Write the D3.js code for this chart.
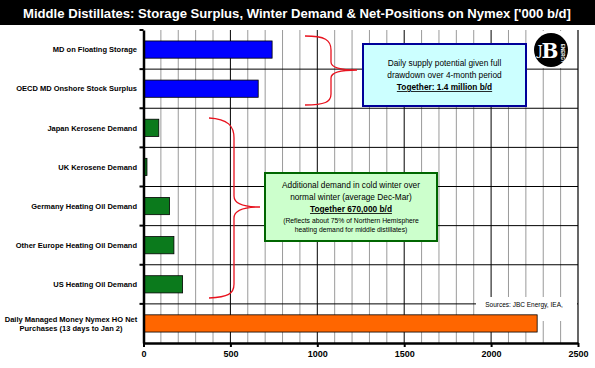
<!DOCTYPE html>
<html lang="en">
<head>
<meta charset="utf-8">
<title>Middle Distillates</title>
<script src="https://d3js.org/d3.v7.min.js"></script>
<style>
  body { margin: 0; background: #fff; }
  text { font-family: Arial, "Liberation Sans", sans-serif; }
  .cat { font-size: 7.5px; font-weight: bold; fill: #000; }
  .tick-lbl { font-size: 9px; font-weight: bold; }
  .note { font-size: 8.3px; fill: #000; }
</style>
</head>
<body>
<svg width="595" height="368"></svg>
<script>
// categories top to bottom
var categories = [
  "MD on Floating Storage",
  "OECD MD Onshore Stock Surplus",
  "Japan Kerosene Demand",
  "UK Kerosene Demand",
  "Germany Heating Oil Demand",
  "Other Europe Heating Oil Demand",
  "US Heating Oil Demand",
  "Daily Managed Money Nymex HO Net Purchases (13 days to Jan 2)"
];
var values = [740, 660, 88, 20, 150, 175, 225, 2265];
var groups = ["storage", "storage", "demand", "demand", "demand", "demand", "demand", "nymex"];
var xTicks = [0, 500, 1000, 1500, 2000, 2500];

var colors = { storage: "#0000ff", demand: "#0b7a1c", nymex: "#ff6600" };

var svg = d3.select("svg");
var pLeft = 143.5, pRight = 578, pTop = 30, pBottom = 343;

var x = d3.scaleLinear().domain([0, 2500]).range([pLeft, pRight]);
var y = d3.scaleBand().domain(categories).range([pTop, pBottom]).padding(0);
var barH = y.bandwidth() * 0.44;

// title bar
svg.append("rect").attr("x", 0).attr("y", 0).attr("width", 595).attr("height", 25).attr("fill", "#000");
svg.append("text")
  .attr("x", 297).attr("y", 17.5)
  .attr("text-anchor", "middle")
  .attr("fill", "#fff")
  .style("font-size", "13px").style("font-weight", "bold")
  .attr("textLength", 548).attr("lengthAdjust", "spacingAndGlyphs")
  .text("Middle Distillates: Storage Surplus, Winter Demand & Net-Positions on Nymex ['000 b/d]");

// vertical grid
svg.append("g").selectAll("line")
  .data(d3.range(100, 2500, 100))
  .join("line")
  .attr("x1", d => x(d)).attr("x2", d => x(d))
  .attr("y1", pTop).attr("y2", pBottom)
  .attr("stroke", d => d % 500 === 0 ? "#000" : "#9a9a9a")
  .attr("stroke-width", 1);

// horizontal band boundaries
svg.append("g").selectAll("line")
  .data(categories.slice(1))
  .join("line")
  .attr("x1", pLeft).attr("x2", pRight)
  .attr("y1", d => y(d)).attr("y2", d => y(d))
  .attr("stroke", "#000");

// right border
svg.append("line").attr("x1", pRight).attr("x2", pRight).attr("y1", pTop).attr("y2", pBottom)
  .attr("stroke", "#000").attr("stroke-width", 1.2);

// logo area
svg.append("rect").attr("x", 531).attr("y", 31).attr("width", 46).attr("height", 37).attr("fill", "#fff");
svg.append("circle").attr("cx", 551).attr("cy", 50).attr("r", 17).attr("fill", "#000");
svg.append("text").attr("x", 550).attr("y", 58).attr("text-anchor", "middle")
  .attr("fill", "#fff").style("font-family", "'DejaVu Serif', serif").style("font-size", "20px")
  .style("font-weight", "bold").text("B");
svg.append("text").attr("x", 540).attr("y", 55).attr("text-anchor", "middle")
  .attr("fill", "#fff").style("font-family", "'DejaVu Serif', serif").style("font-size", "13px")
  .text("J");
svg.append("text").attr("transform", "translate(561,44) rotate(90)")
  .attr("fill", "#fff").style("font-size", "4.5px").style("font-weight", "bold").text("ENERGY");

// sources note box (second line sits behind the orange bar)
svg.append("rect").attr("x", 476).attr("y", 297).attr("width", 101).attr("height", 24).attr("fill", "#fff");
svg.append("text").attr("x", 524).attr("y", 307).attr("text-anchor", "middle")
  .style("font-size", "6.5px").text("Sources: JBC Energy, IEA,");
svg.append("text").attr("x", 524).attr("y", 320).attr("text-anchor", "middle")
  .style("font-size", "6.5px").text("CFTC");

// bars
svg.append("g").selectAll("rect")
  .data(categories)
  .join("rect")
  .attr("x", x(0))
  .attr("y", d => y(d) + (y.bandwidth() - barH) / 2)
  .attr("width", (d, i) => x(values[i]) - x(0))
  .attr("height", barH)
  .attr("fill", (d, i) => colors[groups[i]])
  .attr("stroke", "#000").attr("stroke-width", 0.8);

// axes
var yAxis = svg.append("g").attr("transform", `translate(${pLeft},0)`)
  .call(d3.axisLeft(y).tickValues([]).tickSizeOuter(0));
yAxis.select(".domain").attr("stroke-width", 2.5);
svg.append("g").selectAll("line")
  .data(categories)
  .join("line")
  .attr("x1", pLeft - 4).attr("x2", pLeft)
  .attr("y1", d => y(d)).attr("y2", d => y(d))
  .attr("stroke", "#000").attr("stroke-width", 2);

var xAxis = svg.append("g").attr("transform", `translate(0,${pBottom})`)
  .call(d3.axisBottom(x).tickValues(xTicks).tickSize(4).tickSizeOuter(0).tickFormat(d3.format("d")));
xAxis.select(".domain").attr("stroke-width", 2.5);
xAxis.selectAll(".tick line").attr("stroke-width", 2);
xAxis.selectAll(".tick text").attr("class", "tick-lbl").attr("y", 8).attr("fill", "#000");

// category labels
svg.append("g").selectAll("text")
  .data(categories.slice(0, 7))
  .join("text")
  .attr("class", "cat")
  .attr("x", 137)
  .attr("y", d => y(d) + y.bandwidth() / 2 + 2.7)
  .attr("text-anchor", "end")
  .text(d => d);
var last = categories[7];
var lastLbl = svg.append("text").attr("class", "cat").attr("text-anchor", "middle");
lastLbl.append("tspan").attr("x", 71).attr("y", y(last) + y.bandwidth() / 2 - 1.5).text("Daily Managed Money Nymex HO Net");
lastLbl.append("tspan").attr("x", 71).attr("y", y(last) + y.bandwidth() / 2 + 7.5).text("Purchases (13 days to Jan 2)");

// braces
svg.append("path")
  .attr("d", "M305,36 C325,36 331,40 331,50 L331,62 C331,68 340,70 357,70 C340,70 331,72 331,78 L331,94 C331,102 325,105 305,105")
  .attr("fill", "none").attr("stroke", "#e8121e").attr("stroke-width", 1.3);
svg.append("path")
  .attr("d", "M209,118 C228,119 234,126 234,138 L234,196 C234,204 244,207 260,207 C244,207 234,210 234,218 L234,284 C234,294 228,297 209,298")
  .attr("fill", "none").attr("stroke", "#e8121e").attr("stroke-width", 1.3);

// blue note
svg.append("rect").attr("x", 363).attr("y", 44).attr("width", 163).attr("height", 62)
  .attr("fill", "#ccffff").attr("stroke", "#000099").attr("stroke-width", 2);
var n1 = svg.append("text").attr("class", "note").attr("text-anchor", "middle");
n1.append("tspan").attr("x", 444.5).attr("y", 66).text("Daily supply potential given full");
n1.append("tspan").attr("x", 444.5).attr("y", 78).text("drawdown over 4-month period");
n1.append("tspan").attr("x", 444.5).attr("y", 90).style("font-weight", "bold")
  .style("text-decoration", "underline").text("Together: 1.4 million b/d");

// green note
svg.append("rect").attr("x", 265).attr("y", 173).attr("width", 172).attr("height", 68)
  .attr("fill", "#ccffcc").attr("stroke", "#006600").attr("stroke-width", 2);
var n2 = svg.append("text").attr("class", "note").attr("text-anchor", "middle");
n2.append("tspan").attr("x", 351).attr("y", 188).text("Additional demand in cold winter over");
n2.append("tspan").attr("x", 351).attr("y", 200).text("normal winter (average Dec-Mar)");
n2.append("tspan").attr("x", 351).attr("y", 212).style("font-weight", "bold")
  .style("text-decoration", "underline").text("Together 670,000 b/d");
n2.append("tspan").attr("x", 351).attr("y", 223).style("font-size", "6.8px").text("(Reflects about 75% of Northern Hemisphere");
n2.append("tspan").attr("x", 351).attr("y", 232).style("font-size", "6.8px").text("heating demand for middle distillates)");
</script>
</body>
</html>
